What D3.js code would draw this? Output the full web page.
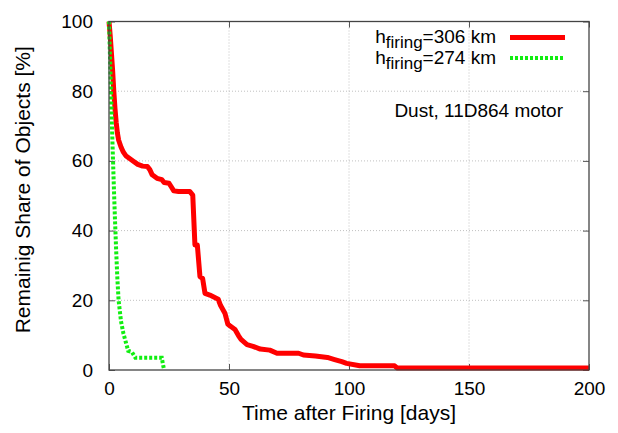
<!DOCTYPE html>
<html>
<head>
  <meta charset="utf-8">
  <title>Remaining Share of Objects</title>
  <style>
    body { margin: 0; background: #fff; }
    text { font-family: "Liberation Sans", Arial, sans-serif; fill: #000; }
  </style>
</head>
<body>
<script src="https://cdnjs.cloudflare.com/ajax/libs/d3/7.8.5/d3.min.js"></script>
<div id="vis"></div>
<script>

// h_firing = 306 km
var daysA = [0,0.5,1,1.5,2,2.5,3,3.5,4,5,6,7,8,10,12,14,16,17,18,20,22,23,25,26,27,29,
             33.7,34.9,35.8,36.8,37.9,39,40,42,45.5,46.5,48.3,49.5,50.5,52.5,54,55,57.5,60,
             63,67,70,79,81,86,91,94,97,99,104.5,119,120,200];
var shareA = [100,96,91,86,80,75,71,68,66,64,62.5,61.5,61,60,59,58.5,58.4,57.5,56,55,54.6,
              53.8,53.6,52.5,51.4,51.2,51.2,50.2,35.9,35.9,26.8,26.3,22,21.5,20.3,18.5,16.3,
              13.2,12.6,11.6,9.8,8.8,7.3,6.8,6,5.7,4.8,4.8,4.3,4,3.6,3,2.4,1.9,1.2,1.2,0.6,0.6];

// h_firing = 274 km
var daysB = [0,0.5,1,1.5,2,2.5,3,3.5,4,5,6,7,8,9.5,11,22,22.6,23];
var shareB = [100,88,75,64,53,43,34,26,20,14,10.5,8,5.5,5.2,3.5,3.5,1.2,0];

var xTicks = [0,50,100,150,200];
var yTicks = [0,20,40,60,80,100];

var W = 618, H = 433;
var m = {top: 21.5, right: 29, bottom: 63, left: 109};
var w = W - m.left - m.right, h = H - m.top - m.bottom;

var svg = d3.select("#vis").append("svg")
  .attr("width", W)
  .attr("height", H);

var x = d3.scaleLinear().domain([0,200]).range([m.left, m.left + w]);
var y = d3.scaleLinear().domain([0,100]).range([m.top + h, m.top]);

// grid
svg.selectAll("line.gx").data(xTicks.slice(1,-1)).enter().append("line")
  .attr("x1", d => x(d)).attr("x2", d => x(d))
  .attr("y1", m.top).attr("y2", m.top + h)
  .attr("stroke", "#c0c0c0").attr("stroke-dasharray", "1,2");
svg.selectAll("line.gy").data(yTicks.slice(1,-1)).enter().append("line")
  .attr("x1", m.left).attr("x2", m.left + w)
  .attr("y1", d => y(d)).attr("y2", d => y(d))
  .attr("stroke", "#c0c0c0").attr("stroke-dasharray", "1,2");

// axes (ticks pointing inward, mirrored)
var gx = svg.append("g").attr("transform", "translate(0," + (m.top + h) + ")")
  .call(d3.axisBottom(x).tickValues(xTicks).tickSizeInner(-6).tickSizeOuter(0).tickPadding(12));
var gx2 = svg.append("g").attr("transform", "translate(0," + m.top + ")")
  .call(d3.axisTop(x).tickValues(xTicks).tickSizeInner(-6).tickSizeOuter(0).tickFormat(""));
var gy = svg.append("g").attr("transform", "translate(" + m.left + ",0)")
  .call(d3.axisLeft(y).tickValues(yTicks).tickSizeInner(-6).tickSizeOuter(0).tickPadding(16));
var gy2 = svg.append("g").attr("transform", "translate(" + (m.left + w) + ",0)")
  .call(d3.axisRight(y).tickValues(yTicks).tickSizeInner(-6).tickSizeOuter(0).tickFormat(""));

[gx, gx2, gy, gy2].forEach(function(g) {
  g.select(".domain").remove();
  g.selectAll("line").attr("stroke", "#555");
  g.selectAll("text").attr("font-size", 19).attr("fill", "#000")
    .style("font-family", "'Liberation Sans', Arial, sans-serif");
});

// curves
var line = d3.line().x(d => x(d[0])).y(d => y(d[1]));

svg.append("path")
  .datum(d3.zip(daysA, shareA))
  .attr("d", line)
  .attr("fill", "none").attr("stroke", "#ff0000")
  .attr("stroke-width", 5).attr("stroke-linejoin", "round");

svg.append("path")
  .datum(d3.zip(daysB, shareB))
  .attr("d", line)
  .attr("fill", "none").attr("stroke", "#11ee11")
  .attr("stroke-width", 4).attr("stroke-dasharray", "3,2");

// border
svg.append("rect")
  .attr("x", m.left).attr("y", m.top).attr("width", w).attr("height", h)
  .attr("fill", "none").attr("stroke", "#444").attr("stroke-width", 1.3);

// axis titles
svg.append("text")
  .attr("x", x(100)).attr("y", 420)
  .attr("text-anchor", "middle").attr("font-size", 21)
  .text("Time after Firing [days]");

svg.append("text")
  .attr("transform", "translate(30," + (m.top + h / 2 - 6) + ") rotate(-90)")
  .attr("text-anchor", "middle").attr("font-size", 21)
  .text("Remainig Share of Objects [%]");

// legend
var legend = [
  {label: "=306 km", color: "#ff0000", width: 5, dash: null},
  {label: "=274 km", color: "#11ee11", width: 4, dash: "3,2"}
];
legend.forEach(function(d, i) {
  var ty = 43 + i * 20.6;
  var t = svg.append("text")
    .attr("x", 496).attr("y", ty)
    .attr("text-anchor", "end").attr("font-size", 19);
  t.append("tspan").text("h");
  t.append("tspan").attr("font-size", 17).attr("dy", 5).text("firing");
  t.append("tspan").attr("dy", -5).text(d.label);
  svg.append("line")
    .attr("x1", 510).attr("x2", 565)
    .attr("y1", ty - 5.5).attr("y2", ty - 5.5)
    .attr("stroke", d.color).attr("stroke-width", d.width)
    .attr("stroke-dasharray", d.dash);
});

svg.append("text")
  .attr("x", 563).attr("y", 117)
  .attr("text-anchor", "end").attr("font-size", 19)
  .text("Dust, 11D864 motor");

</script>
</body>
</html>
